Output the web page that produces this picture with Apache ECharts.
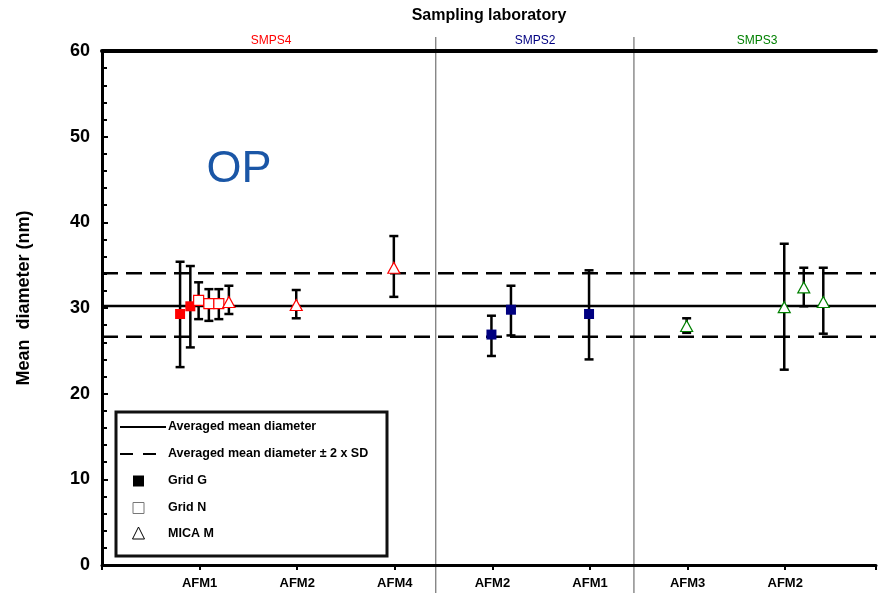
<!DOCTYPE html>
<html>
<head>
<meta charset="utf-8">
<script src="https://cdn.jsdelivr.net/npm/echarts@6/dist/echarts.min.js"></script>
<style>
  html, body { margin: 0; padding: 0; background: #fff; }
  #chart { width: 879px; height: 606px; }
</style>
</head>
<body>
<div id="chart"></div>
<script>
// x tick labels (AFM instrument under each position)
var afmLabels = ['', 'AFM1', 'AFM2', 'AFM4', 'AFM2', 'AFM1', 'AFM3', 'AFM2'];
var labNames = ['SMPS4', 'SMPS2', 'SMPS3'];
var labColors = ['#ff0000', '#000080', '#008000'];
var labSplits = [3.42, 5.45];

var avgDiameter = 30.23;
var sdLow = 26.63;
var sdHigh = 34.07;

// [x position, mean, low, high]
var smps4GridG = [[0.80, 29.3, 23.1, 35.4], [0.905, 30.2, 25.4, 34.9]];
var smps4GridN = [[0.99, 30.9, 28.7, 33.0], [1.095, 30.5, 28.5, 32.2], [1.197, 30.5, 28.7, 32.2]];
var smps4Mica = [[1.30, 30.7, 29.3, 32.6], [1.99, 30.35, 28.8, 32.1], [2.99, 34.7, 31.3, 38.4]];
var smps2GridG = [[3.99, 26.9, 24.4, 29.1], [4.19, 29.8, 26.8, 32.6], [4.99, 29.3, 24.0, 34.4]];
var smps3Mica = [[5.99, 27.9, 27.1, 28.8], [6.99, 30.1, 22.8, 37.5], [7.19, 32.4, 30.2, 34.7], [7.39, 30.7, 27.0, 34.7]];

var xMax = 7.93;
var font = 'Liberation Sans, Arial, sans-serif';

var allPoints = [].concat(smps4GridG, smps4GridN, smps4Mica, smps2GridG, smps3Mica);

function pts(arr) {
  return arr.map(function (d) { return [d[0], d[1]]; });
}

function scatter(arr, symbol, color, filled) {
  return {
    type: 'scatter',
    data: pts(arr),
    symbol: symbol,
    symbolSize: symbol === 'triangle' ? [12, 11] : 10,
    z: 5,
    itemStyle: {
      color: filled ? color : '#fff',
      borderColor: color,
      borderWidth: filled ? 0 : 1.2,
      opacity: 1
    }
  };
}

function hLine(v, dashed) {
  return {
    type: 'line',
    data: [[0, v], [xMax, v]],
    symbol: 'none',
    silent: true,
    z: 1,
    lineStyle: { color: '#000', width: 2.5, type: dashed ? [16, 8] : 'solid' }
  };
}

var chart = echarts.init(document.getElementById('chart'));

var option = {
  animation: false,
  grid: { left: 102, right: 0, top: 51, bottom: 41 },
  xAxis: [{
    type: 'value',
    min: 0,
    max: xMax,
    interval: 1,
    splitLine: { show: false },
    axisLine: { lineStyle: { color: '#000', width: 3 } },
    axisTick: { show: true, inside: false, length: 5, lineStyle: { color: '#000', width: 2 } },
    axisLabel: {
      margin: 12,
      color: '#000',
      fontFamily: font,
      fontWeight: 'bold',
      fontSize: 13,
      formatter: function (v) {
        return Math.abs(v - Math.round(v)) < 1e-6 ? (afmLabels[Math.round(v)] || '') : '';
      }
    }
  }, {
    type: 'value',
    position: 'top',
    min: 0,
    max: xMax,
    splitLine: { show: false },
    axisLine: { lineStyle: { color: '#000', width: 4 } },
    axisTick: { show: false },
    axisLabel: { show: false }
  }],
  yAxis: {
    type: 'value',
    min: 0,
    max: 60,
    interval: 10,
    splitLine: { show: false },
    axisLine: { lineStyle: { color: '#000', width: 3 } },
    axisTick: { show: true, inside: true, length: 6, lineStyle: { color: '#000', width: 2 } },
    minorTick: { show: true, splitNumber: 5, length: 5, lineStyle: { color: '#000', width: 2 } },
    axisLabel: {
      margin: 12,
      color: '#000',
      fontFamily: font,
      fontWeight: 'bold',
      fontSize: 18
    }
  },
  series: [
    hLine(avgDiameter, false),
    hLine(sdHigh, true),
    hLine(sdLow, true),
    {
      // error bars
      type: 'custom',
      z: 3,
      data: allPoints,
      renderItem: function (params, api) {
        var x = api.value(0);
        var top = api.coord([x, api.value(3)]);
        var bot = api.coord([x, api.value(2)]);
        var cap = 4.5;
        var style = { stroke: '#000', lineWidth: 2.5 };
        return {
          type: 'group',
          children: [
            { type: 'line', shape: { x1: top[0], y1: top[1], x2: bot[0], y2: bot[1] }, style: style },
            { type: 'line', shape: { x1: top[0] - cap, y1: top[1], x2: top[0] + cap, y2: top[1] }, style: style },
            { type: 'line', shape: { x1: bot[0] - cap, y1: bot[1], x2: bot[0] + cap, y2: bot[1] }, style: style }
          ]
        };
      },
      encode: { x: 0, y: 1 }
    },
    scatter(smps4GridG, 'rect', labColors[0], true),
    scatter(smps4GridN, 'rect', labColors[0], false),
    scatter(smps4Mica, 'triangle', labColors[0], false),
    scatter(smps2GridG, 'rect', labColors[1], true),
    scatter(smps3Mica, 'triangle', labColors[2], false)
  ]
};

chart.setOption(option);

// lab separators, titles, legend box
var sepX = labSplits.map(function (v) { return chart.convertToPixel({ xAxisIndex: 0 }, v); });
var labCenters = [271, 535, 757];

var graphics = [
  { type: 'text', style: { text: 'Sampling laboratory', x: 489, y: 16, align: 'center', verticalAlign: 'middle', font: 'bold 16px ' + font, fill: '#000' } },
  { type: 'text', style: { text: 'OP', x: 239, y: 170, align: 'center', verticalAlign: 'middle', font: '45px ' + font, fill: '#1a56a6' } },
  { type: 'text', rotation: Math.PI / 2, x: 24, y: 298, style: { text: 'Mean  diameter (nm)', x: 0, y: 0, align: 'center', verticalAlign: 'middle', font: 'bold 18px ' + font, fill: '#000' } }
];

sepX.forEach(function (x) {
  graphics.push({ type: 'line', z: 0, shape: { x1: x, y1: 37, x2: x, y2: 593 }, style: { stroke: '#555', lineWidth: 1 } });
});
labNames.forEach(function (n, i) {
  graphics.push({ type: 'text', style: { text: n, x: labCenters[i], y: 41, align: 'center', verticalAlign: 'middle', font: '12px ' + font, fill: labColors[i] } });
});

// legend
var lg = { x: 116, y: 412, w: 271, h: 144 };
graphics.push({ type: 'rect', z: 10, shape: { x: lg.x, y: lg.y, width: lg.w, height: lg.h }, style: { fill: '#fff', stroke: '#111', lineWidth: 3 } });
var rows = [427, 454, 481, 508, 534];
var legendTexts = ['Averaged mean diameter', 'Averaged mean diameter \u00b1 2 x SD', 'Grid G', 'Grid N', 'MICA M'];
legendTexts.forEach(function (t, i) {
  graphics.push({ type: 'text', z: 11, style: { text: t, x: 168, y: rows[i], verticalAlign: 'middle', font: 'bold 12.5px ' + font, fill: '#000' } });
});
graphics.push({ type: 'line', z: 11, shape: { x1: 120, y1: rows[0], x2: 166, y2: rows[0] }, style: { stroke: '#000', lineWidth: 2 } });
graphics.push({ type: 'line', z: 11, shape: { x1: 120, y1: rows[1], x2: 166, y2: rows[1] }, style: { stroke: '#000', lineWidth: 2, lineDash: [13, 10] } });
graphics.push({ type: 'rect', z: 11, shape: { x: 133, y: rows[2] - 5.5, width: 11, height: 11 }, style: { fill: '#000' } });
graphics.push({ type: 'rect', z: 11, shape: { x: 133, y: rows[3] - 5.5, width: 11, height: 11 }, style: { fill: '#fff', stroke: '#777', lineWidth: 1 } });
graphics.push({ type: 'polygon', z: 11, shape: { points: [[138.5, rows[4] - 7], [132.5, rows[4] + 5], [144.5, rows[4] + 5]] }, style: { fill: '#fff', stroke: '#000', lineWidth: 1 } });

chart.setOption({ graphic: graphics });
</script>
</body>
</html>
